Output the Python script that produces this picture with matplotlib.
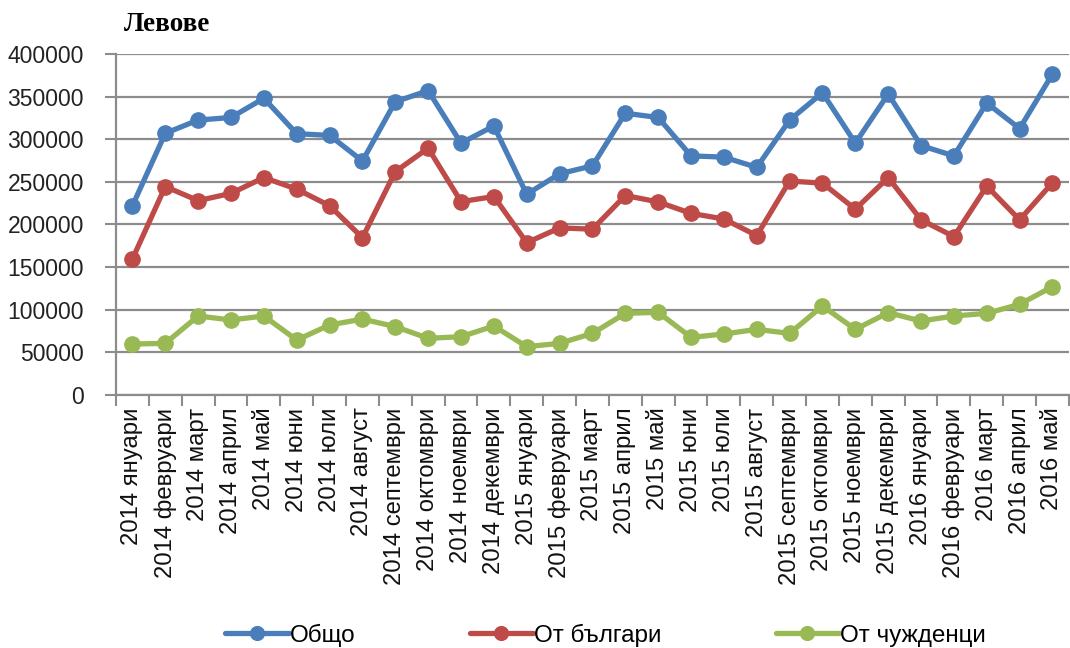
import matplotlib
matplotlib.use("Agg")
import matplotlib.pyplot as plt
import numpy as np

categories = [
    "2014 януари", "2014 февруари", "2014 март", "2014 април", "2014 май", "2014 юни",
    "2014 юли", "2014 август", "2014 септември", "2014 октомври", "2014 ноември",
    "2014 декември", "2015 януари", "2015 февруари", "2015 март", "2015 април",
    "2015 май", "2015 юни", "2015 юли", "2015 август", "2015 септември",
    "2015 октомври", "2015 ноември", "2015 декември", "2016 януари", "2016 февруари",
    "2016 март", "2016 април", "2016 май",
]
total = [222000, 307000, 322500, 325500, 348000, 306500, 304500, 274500, 344000, 357000,
         295500, 315500, 235500, 259500, 268800, 330500, 325500, 280500, 279000, 267000,
         322500, 354500, 295500, 353000, 292500, 280500, 342500, 312500, 376500]
bulgarians = [159500, 244500, 228000, 236500, 255000, 241500, 222000, 184500, 262000, 289500,
              226800, 232800, 178700, 196000, 194500, 234000, 226500, 213000, 206500, 187000,
              251000, 248500, 218000, 255000, 205500, 185800, 245000, 205500, 249000]
foreigners = [59800, 60600, 92700, 88000, 92700, 64500, 82100, 89100, 80200, 66500,
              68400, 80900, 56700, 60600, 72300, 95800, 97000, 67600, 71600, 77000,
              72300, 104400, 77000, 96600, 86800, 92700, 95800, 106400, 127100]
series_names = ["Общо", "От българи", "От чужденци"]
colors = ["#4A7EBB", "#BE4B48", "#98B954"]
yticks = [0, 50000, 100000, 150000, 200000, 250000, 300000, 350000, 400000]

sans = ["Liberation Sans", "DejaVu Sans"]

fig = plt.figure(figsize=(10.7, 6.48), dpi=100)
ax = fig.add_axes([0.1084, 0.3904, 0.8906, 0.5263])

x = np.arange(len(categories))
for vals, name, c in zip([total, bulgarians, foreigners], series_names, colors):
    ax.plot(x, vals, color=c, lw=3.8, marker="o", markersize=11, label=name,
            solid_capstyle="round")

ax.set_xlim(-0.5, len(categories) - 0.5)
ax.set_ylim(0, 400000)
ax.set_yticks(yticks)
ax.set_yticklabels([str(v) for v in yticks], fontsize=16.5, family=sans, color="#222222")
ax.yaxis.grid(True, color="#8C8C8C", lw=1.6)
ax.set_axisbelow(True)
ax.tick_params(axis="y", length=8, width=1.5, color="#8C8C8C", pad=15)

ax.set_xticks(x)
ax.set_xticklabels(categories, rotation=90, fontsize=17.2, family=sans, color="#111111")
ax.set_xticks(np.arange(-0.5, len(categories), 1), minor=True)
ax.tick_params(axis="x", which="major", length=0, pad=9)
ax.tick_params(axis="x", which="minor", length=8, width=1.5, color="#8C8C8C")

for s in ["top", "right"]:
    ax.spines[s].set_visible(False)
ax.spines["left"].set_color("#8C8C8C")
ax.spines["left"].set_linewidth(1.6)
ax.spines["bottom"].set_color("#8C8C8C")
ax.spines["bottom"].set_linewidth(1.6)

fig.text(0.116, 0.962, "Левове", fontsize=19.5, fontweight="bold",
         family=["Liberation Serif", "DejaVu Serif"], va="center", ha="left")

leg = fig.legend(loc="center", bbox_to_anchor=(0.566, 0.02), ncol=3, frameon=False,
                 prop={"family": sans, "size": 17.5}, handlelength=2.6, handletextpad=0.05,
                 columnspacing=4.7, markerscale=0.9)

fig.savefig("out.png", dpi=100)
